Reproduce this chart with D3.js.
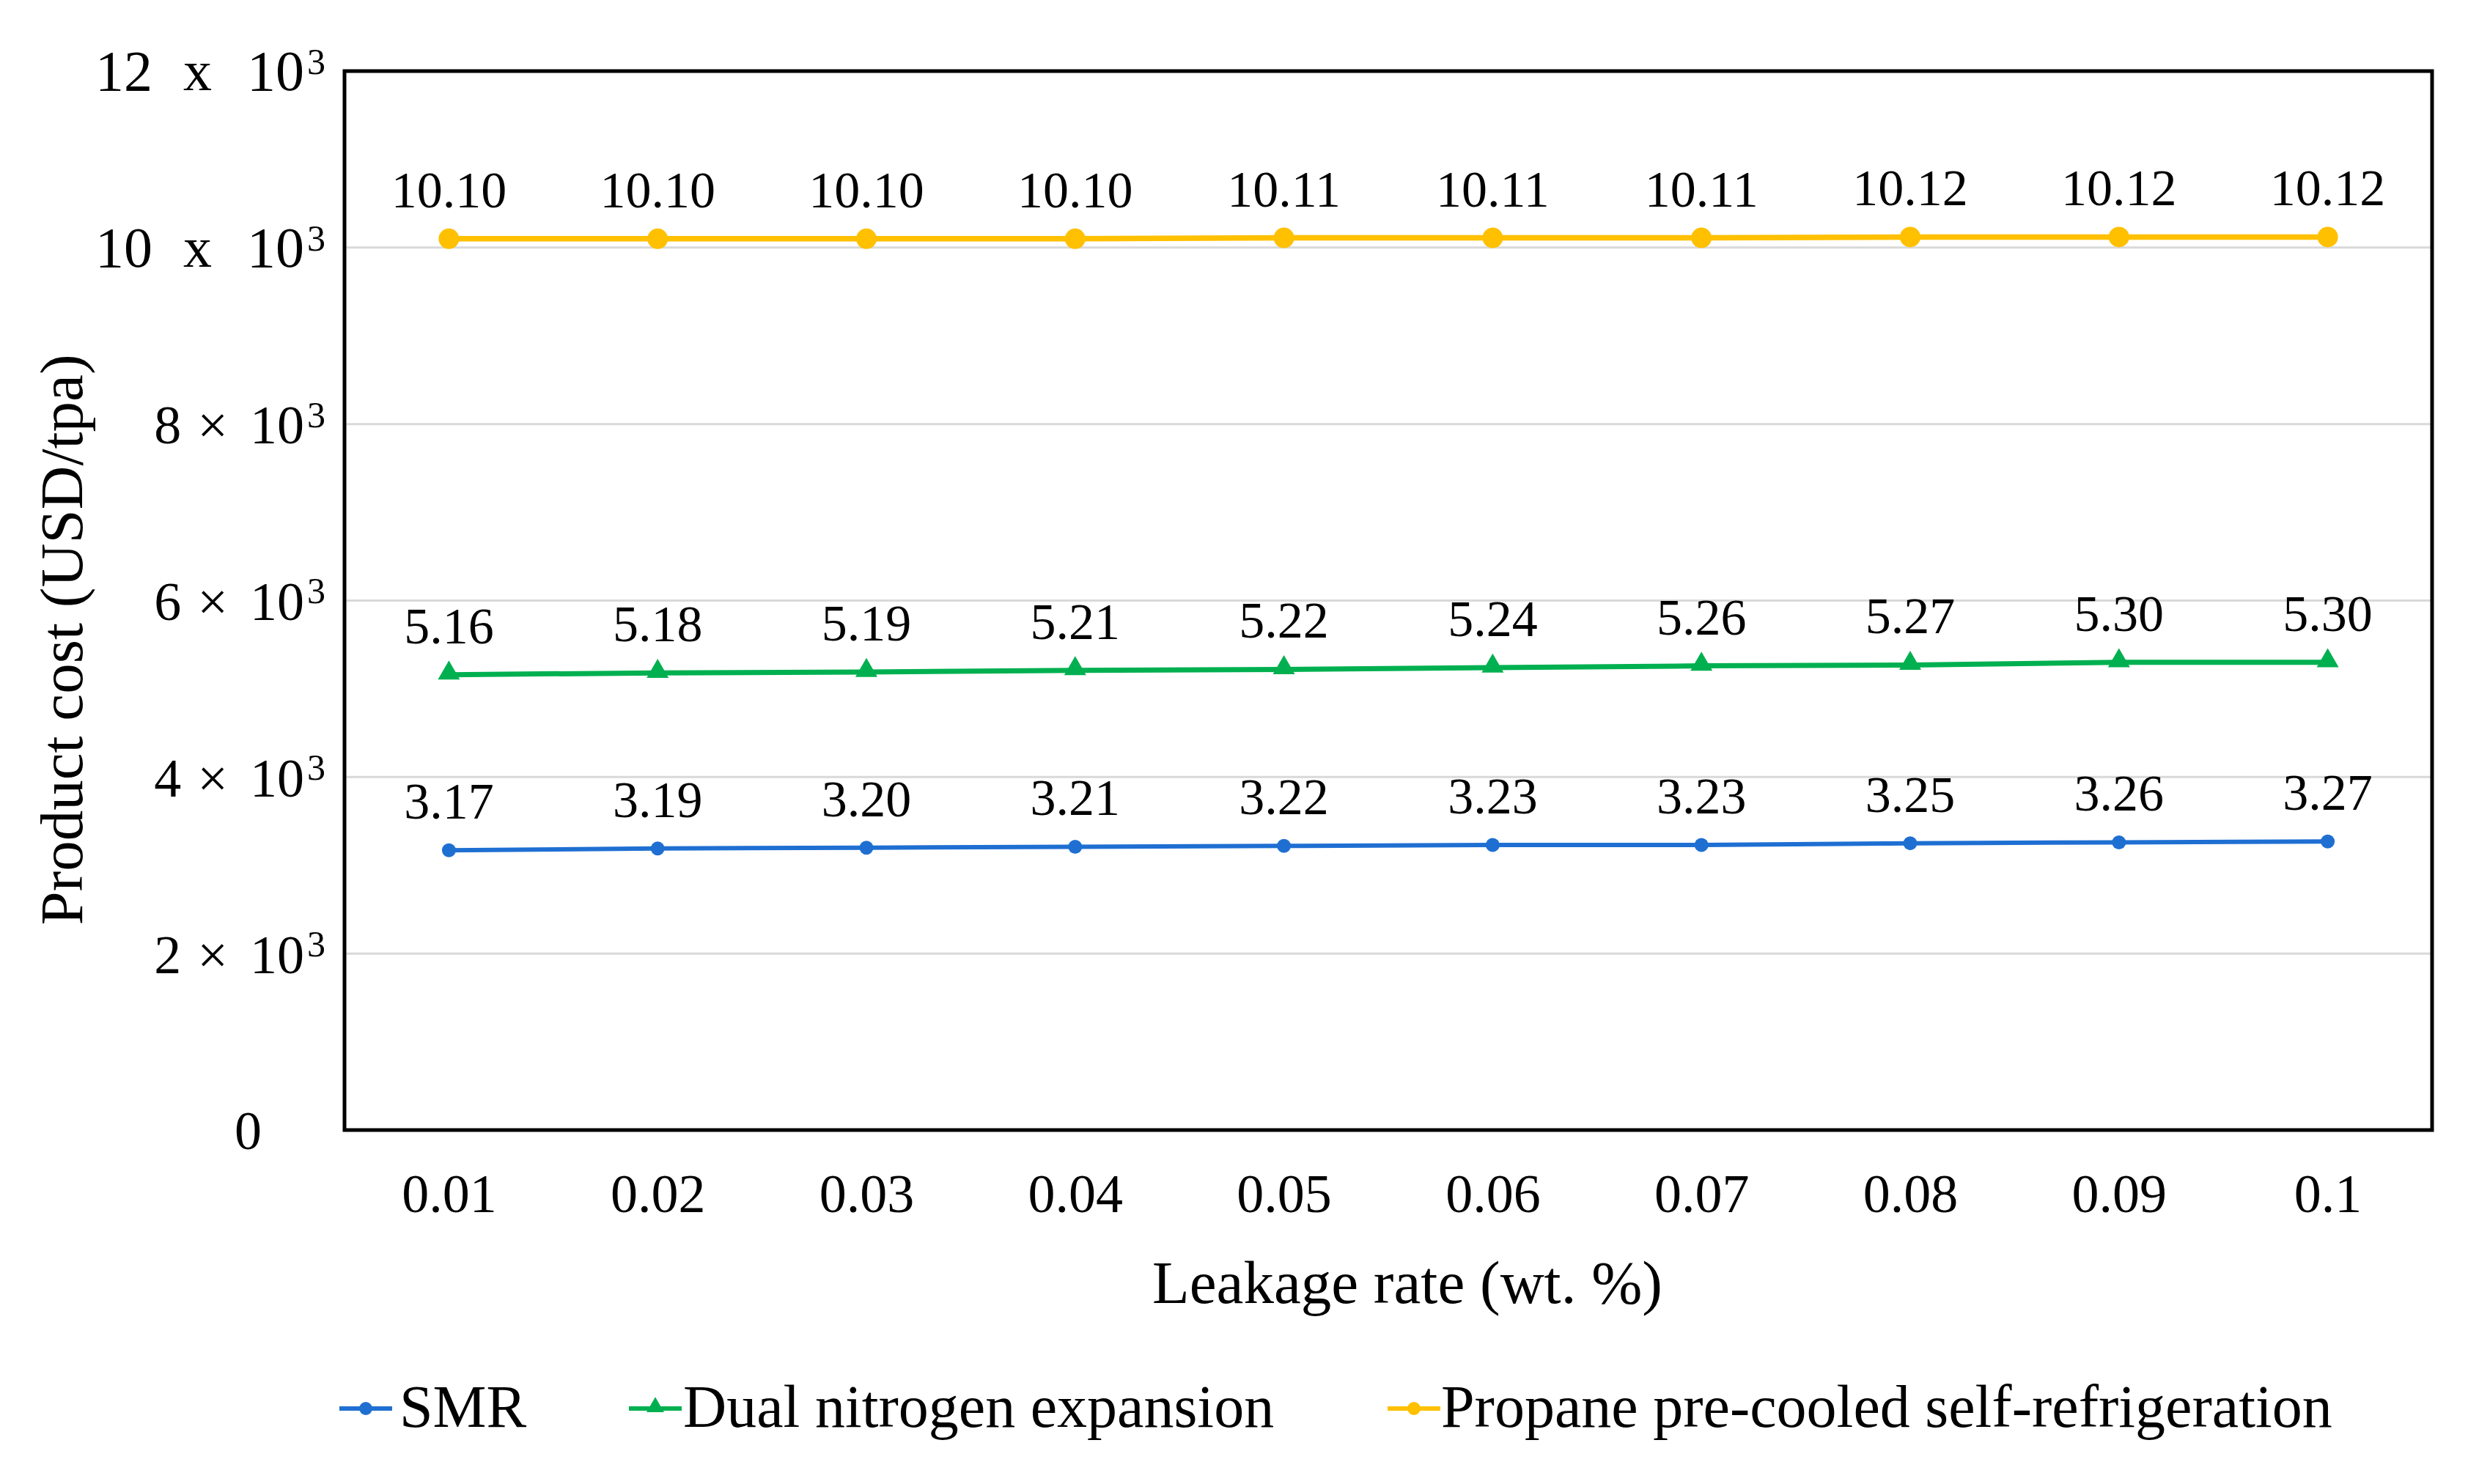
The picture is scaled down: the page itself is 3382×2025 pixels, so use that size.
<!DOCTYPE html>
<html>
<head>
<meta charset="utf-8">
<script src="https://cdn.jsdelivr.net/npm/d3@7"></script>
<style>
  html, body { margin: 0; padding: 0; background: #fff; }
  svg text { font-family: "Liberation Serif", "Times New Roman", serif; fill: #000; }
</style>
</head>
<body>
<svg id="chart" width="3382" height="2025"></svg>
<script>
// ---- Data ----
const categories = ["0.01", "0.02", "0.03", "0.04", "0.05", "0.06", "0.07", "0.08", "0.09", "0.1"];
const smr = [3.17, 3.19, 3.20, 3.21, 3.22, 3.23, 3.23, 3.25, 3.26, 3.27];
const dualNitrogen = [5.16, 5.18, 5.19, 5.21, 5.22, 5.24, 5.26, 5.27, 5.30, 5.30];
const propane = [10.10, 10.10, 10.10, 10.10, 10.11, 10.11, 10.11, 10.12, 10.12, 10.12];
const seriesNames = ["SMR", "Dual nitrogen expansion", "Propane pre-cooled self-refrigeration"];
const yTicks = [0, 2, 4, 6, 8, 10, 12];
const xTitle = "Leakage rate (wt. %)";
const yTitle = "Product cost (USD/tpa)";

// ---- Layout ----
const svg = d3.select("#chart");
const L = 470, R = 3318, T = 97, B = 1542;

const x = d3.scalePoint().domain(categories).range([L, R]).padding(0.5);
const y = d3.scaleLinear().domain([0, 12]).range([B, T]);

const series = [
  { name: seriesNames[0], values: smr, color: "#1F6FD2", marker: "circle", r: 9.5, lw: 6 },
  { name: seriesNames[1], values: dualNitrogen, color: "#00B050", marker: "triangle", size: 30, lw: 7 },
  { name: seriesNames[2], values: propane, color: "#FFC000", marker: "circle", r: 14, lw: 7.5 }
];

// gridlines
svg.append("g")
  .selectAll("line")
  .data(yTicks.filter(v => v > 0 && v < 12))
  .join("line")
  .attr("x1", L).attr("x2", R)
  .attr("y1", d => y(d)).attr("y2", d => y(d))
  .attr("stroke", "#D9D9D9").attr("stroke-width", 3);

// Y axis (labels only)
const yAxis = svg.append("g")
  .attr("transform", `translate(${L},0)`)
  .call(d3.axisLeft(y).tickValues(yTicks).tickSize(0).tickFormat(d => String(d)));
yAxis.select(".domain").remove();
yAxis.selectAll(".tick text").each(function(d) {
  const t = d3.select(this);
  t.text(null)
    .attr("font-size", 74)
    .attr("font-family", "Liberation Serif, Times New Roman, serif")
    .attr("fill", "#000")
    .attr("text-anchor", "end")
    .attr("dy", "0.35em");
  if (d === 0) {
    t.attr("x", -113).text("0");
  } else {
    t.attr("x", -26);
    const big = d >= 10;
    t.append("tspan").attr("font-size", big ? 78 : 74).text(String(d));
    t.append("tspan").attr("dx", big ? 42 : 22).attr("font-size", big ? 78 : 74).text(big ? "x" : "×");
    t.append("tspan").attr("dx", big ? 48 : 30).attr("font-size", big ? 78 : 74).text("10");
    t.append("tspan").attr("dx", 4).attr("dy", "-0.45em").attr("font-size", 50).text("3");
  }
});

// X axis (labels only)
const xAxis = svg.append("g")
  .attr("transform", `translate(0,${B})`)
  .call(d3.axisBottom(x).tickSize(0).tickPadding(0));
xAxis.select(".domain").remove();
xAxis.selectAll(".tick text")
  .attr("font-size", 74)
  .attr("font-family", "Liberation Serif, Times New Roman, serif")
  .attr("fill", "#000")
  .attr("dy", 0)
  .attr("y", 1654 - B);

// frame
svg.append("rect")
  .attr("x", L).attr("y", T)
  .attr("width", R - L).attr("height", B - T)
  .attr("fill", "none").attr("stroke", "#000").attr("stroke-width", 5);

// lines, markers, labels
const line = d3.line().x((d, i) => x(categories[i])).y(d => y(d));
const tri = d3.symbol().type(d3.symbolTriangle);

series.forEach(s => {
  const g = svg.append("g");
  g.append("path")
    .datum(s.values)
    .attr("d", line)
    .attr("fill", "none")
    .attr("stroke", s.color)
    .attr("stroke-width", s.lw);
  if (s.marker === "circle") {
    g.selectAll("circle").data(s.values).join("circle")
      .attr("cx", (d, i) => x(categories[i]))
      .attr("cy", d => y(d))
      .attr("r", s.r)
      .attr("fill", s.color);
  } else {
    g.selectAll("path.m").data(s.values).join("path")
      .attr("class", "m")
      .attr("d", tri.size(s.size * s.size * 0.433)())
      .attr("transform", (d, i) => `translate(${x(categories[i])},${y(d) - 2})`)
      .attr("fill", s.color);
  }
  g.selectAll("text").data(s.values).join("text")
    .attr("x", (d, i) => x(categories[i]))
    .attr("y", d => y(d) - 43)
    .attr("text-anchor", "middle")
    .attr("font-size", 70)
    .text(d => d.toFixed(2));
});

// x title
svg.append("text")
  .attr("x", 1920).attr("y", 1778)
  .attr("text-anchor", "middle")
  .attr("font-size", 83)
  .text(xTitle);

// y title
svg.append("text")
  .attr("transform", `translate(112,873) rotate(-90)`)
  .attr("text-anchor", "middle")
  .attr("font-size", 83)
  .text(yTitle);

// legend
const legendPos = [
  { lx: 463, tx: 545 },
  { lx: 858, tx: 932 },
  { lx: 1893, tx: 1966 }
];
const ly = 1922;
series.forEach((s, i) => {
  const p = legendPos[i];
  const g = svg.append("g");
  g.append("line")
    .attr("x1", p.lx).attr("x2", p.lx + 72)
    .attr("y1", ly).attr("y2", ly)
    .attr("stroke", s.color).attr("stroke-width", 6);
  const cx = p.lx + 36;
  if (s.marker === "circle") {
    g.append("circle").attr("cx", cx).attr("cy", ly).attr("r", 9).attr("fill", s.color);
  } else {
    g.append("path")
      .attr("d", tri.size(24 * 24 * 0.433)())
      .attr("transform", `translate(${cx},${ly - 2})`)
      .attr("fill", s.color);
  }
  g.append("text")
    .attr("x", p.tx).attr("y", 1947)
    .attr("font-size", 82)
    .text(s.name);
});
</script>
</body>
</html>
